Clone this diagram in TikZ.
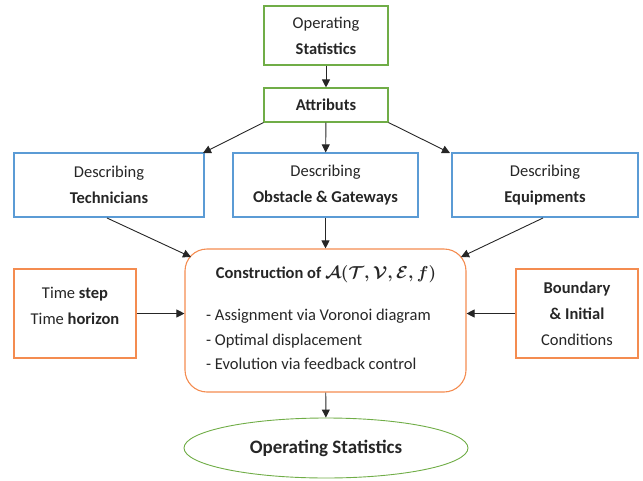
\documentclass[tikz,border=0pt]{standalone}
\usepackage{fontspec}
\setmainfont{Carlito}
\usepackage{amsmath,bm}
\usetikzlibrary{shapes.geometric,arrows.meta}
\definecolor{ogreen}{RGB}{112,173,71}
\definecolor{oblue}{RGB}{91,155,213}
\definecolor{oorange}{RGB}{244,140,80}
\begin{document}
\begin{tikzpicture}[x=1pt,y=-1pt,
  box/.style={draw=#1,line width=1.1pt,rectangle,align=center,inner sep=0pt,font=\fontsize{16.5}{26}\selectfont},
  arr/.style={-{Triangle[length=8pt,width=8pt]},line width=0.9pt,black!85},
  every node/.style={text=black!85}]
\useasboundingbox (0,0) rectangle (643,480);
\node[box=ogreen,minimum width=124pt,minimum height=59pt] (ops) at (326,35.5) {Operating\\\textbf{Statistics}};
\node[box=ogreen,minimum width=124pt,minimum height=34pt] (att) at (326,105) {\textbf{Attributs}};
\node[box=oblue,minimum width=190pt,minimum height=64pt] (tech) at (109,185) {Describing\\\textbf{Technicians}};
\node[box=oblue,minimum width=185pt,minimum height=64pt] (obs) at (325.5,185) {Describing\\\textbf{Obstacle \& Gateways}};
\node[box=oblue,minimum width=186pt,minimum height=64pt] (equ) at (545,185) {Describing\\\textbf{Equipments}};
\node[box=oorange,minimum width=122pt,minimum height=89pt] (time) at (75,313.5) {};
\node[align=center,font=\fontsize{16.5}{26}\selectfont,inner sep=0pt] (timet) at (75,306) {Time \textbf{step}\\Time \textbf{horizon}};
\node[box=oorange,minimum width=122pt,minimum height=89pt] (bnd) at (577,313.5) {\textbf{Boundary}\\\textbf{\&} \textbf{Initial}\\Conditions};
\node[draw=oorange,line width=1.1pt,rounded corners=22pt,minimum width=281pt,minimum height=143pt,inner sep=0pt] (ctr) at (325.5,320.5) {};
\node[anchor=north,font=\fontsize{16.5}{26}\selectfont,inner sep=0pt] (ctrt) at (326,265) {\textbf{Construction of} {\boldmath$\bm{\mathcal{A}}(\bm{\mathcal{T}},\bm{\mathcal{V}},\bm{\mathcal{E}},\bm{f})$}};
\node[anchor=north west,align=left,font=\fontsize{16.5}{24.5}\selectfont,inner sep=0pt] (ctrl) at (206,309) {- Assignment via Voronoi diagram\\- Optimal displacement\\- Evolution via feedback control};
\node[draw=ogreen,line width=0.9pt,ellipse,minimum width=284pt,minimum height=60pt,inner sep=0pt,font=\fontsize{19}{22}\selectfont] (out) at (326,448) {\textbf{Operating Statistics}};
\coordinate (t1) at (107,218);
\coordinate (e1) at (543,218);
\coordinate (c1) at (191,257);
\coordinate (c2) at (461,257);
\coordinate (tt) at (203,153);
\coordinate (ee) at (450,153);
\draw[arr] (ops) -- (att);
\draw[arr] (att.south west) -- (tt);
\draw[arr] (att) -- (obs);
\draw[arr] (att.south east) -- (ee);
\draw[arr] (t1) -- (c1);
\draw[arr] (obs) -- (ctr);
\draw[arr] (e1) -- (c2);
\draw[arr] (time.east) -- (ctr.west |- time.east);
\draw[arr] (bnd.west) -- (ctr.east |- bnd.west);
\draw[arr] (ctr) -- (out);
\end{tikzpicture}
\end{document}
